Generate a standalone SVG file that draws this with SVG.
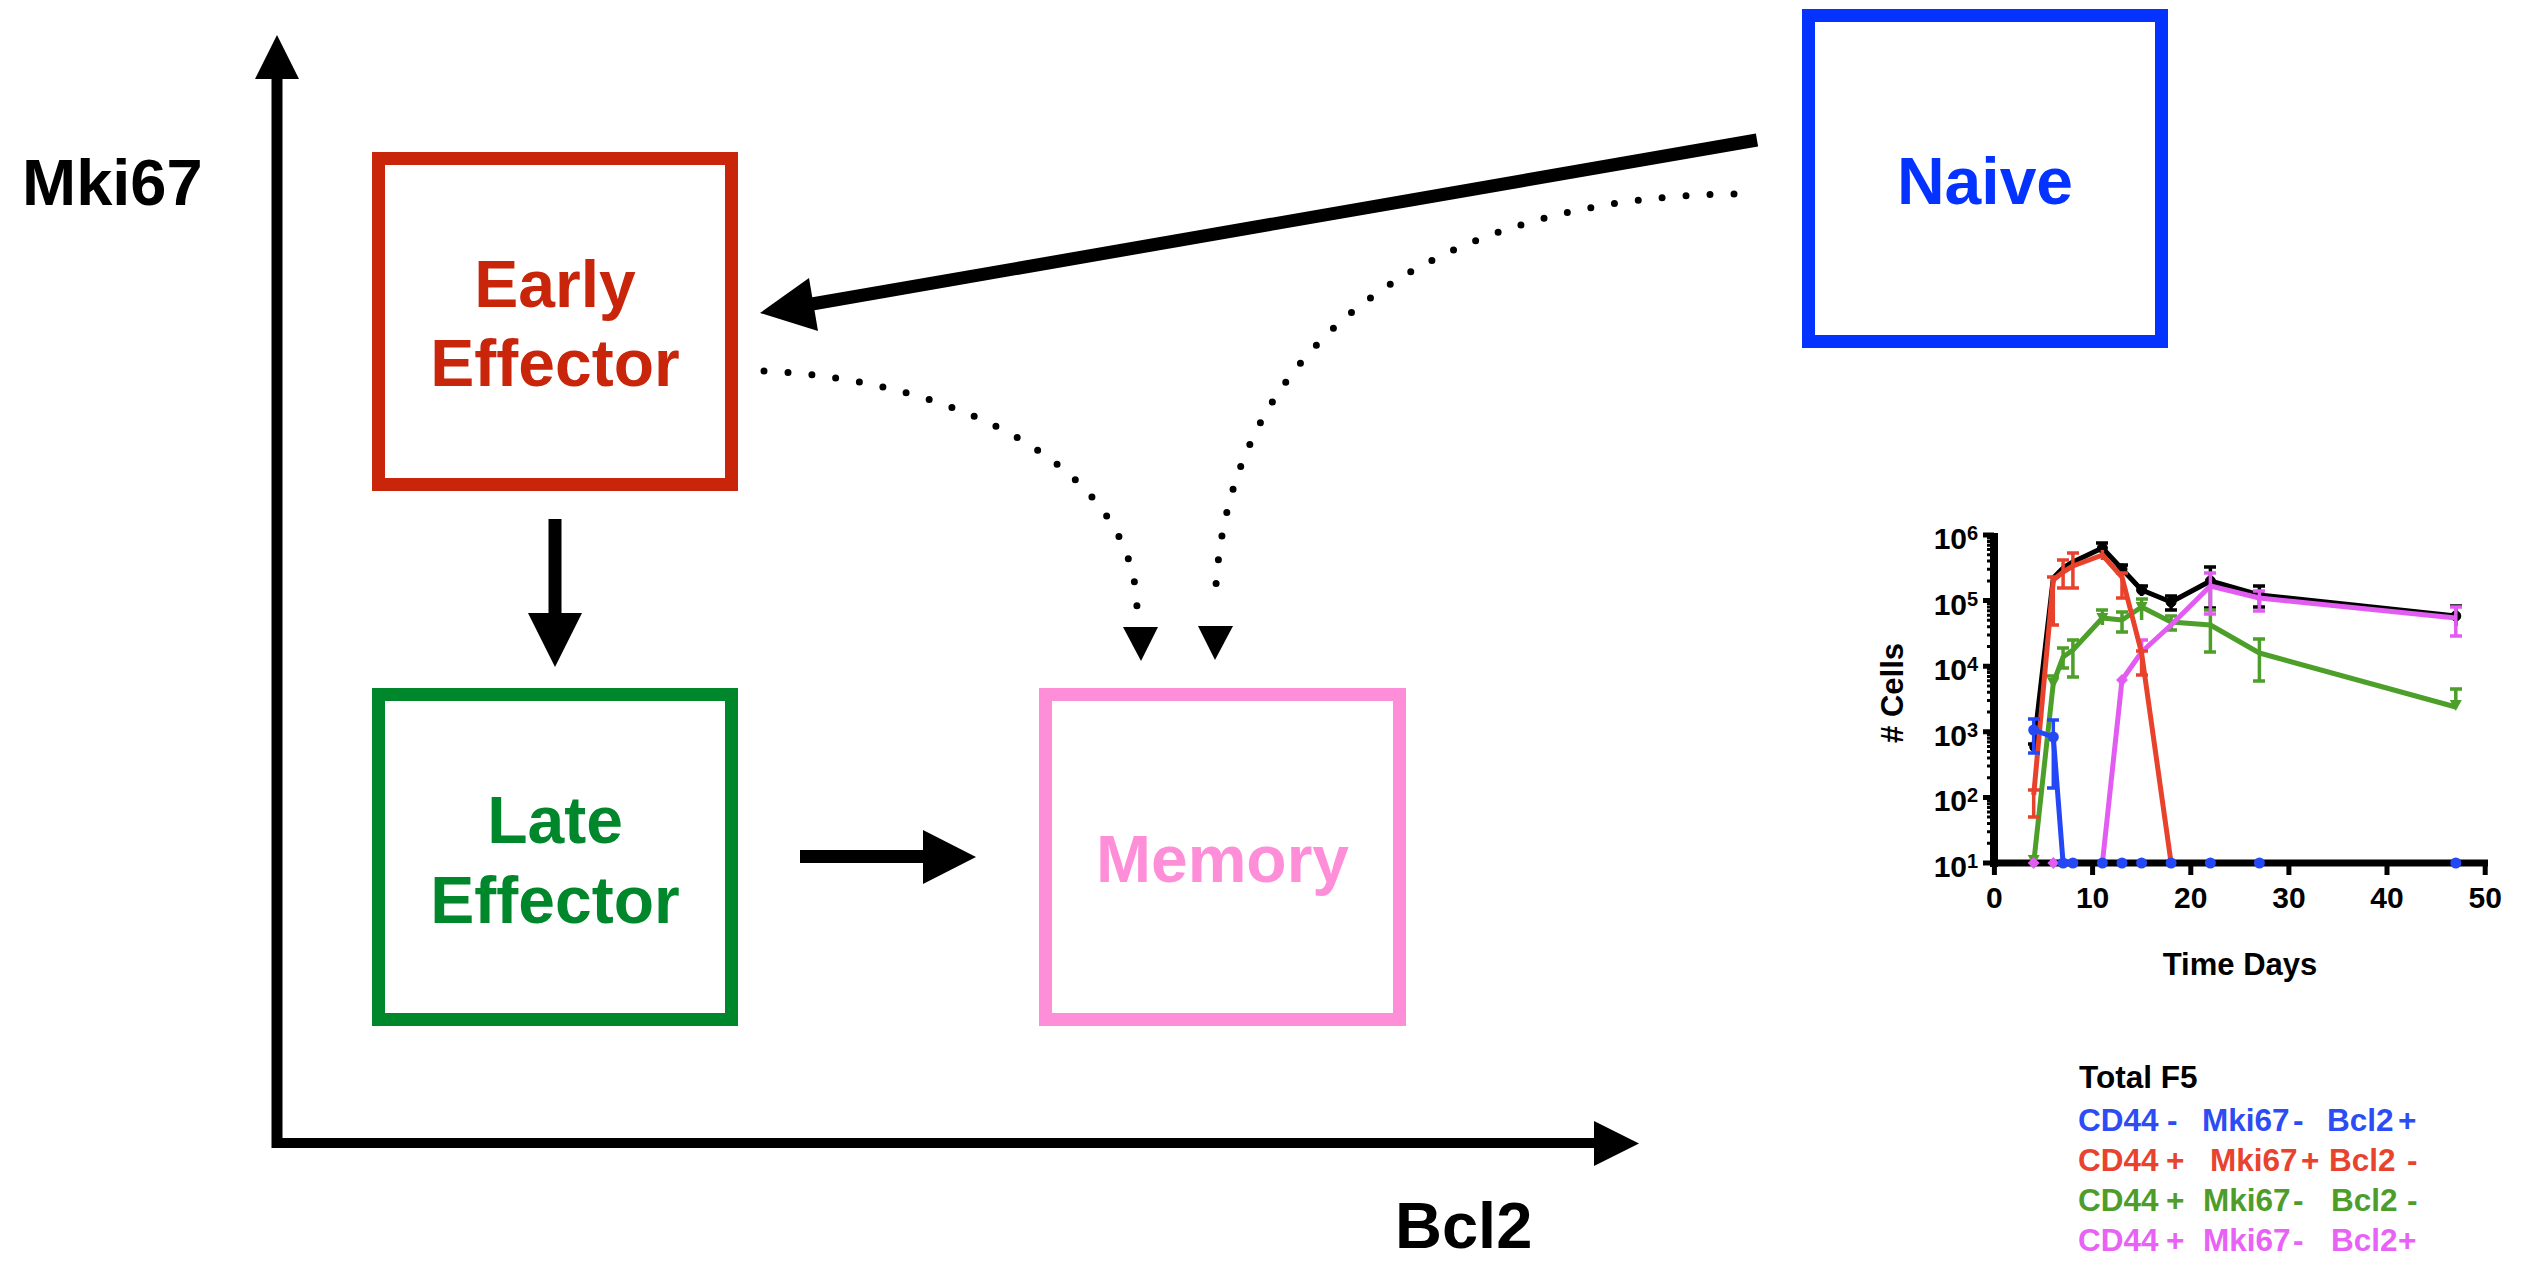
<svg xmlns="http://www.w3.org/2000/svg" width="2531" height="1262" viewBox="0 0 2531 1262">
<style>
text{font-family:"Liberation Sans",Arial,Helvetica,sans-serif;font-weight:bold}
.box{fill:none;stroke-width:13}
.lbl{font-size:66px;text-anchor:middle}
.ax{font-size:65px;fill:#000}
.solid{fill:none;stroke:#000;stroke-width:13}
.head{fill:#000}
.dot{fill:none;stroke:#000;stroke-width:7;stroke-linecap:round;stroke-dasharray:0 24}
.tk{font-size:30px;text-anchor:middle;fill:#000}
.yl{font-size:30px;text-anchor:end;fill:#000}
.sup{font-size:20px;fill:#000}
.lg{font-size:31.5px}
.ser{fill:none;stroke-width:5;stroke-linejoin:round}
.err{fill:none;stroke-width:3.5}
.axl{fill:none;stroke:#000}
</style>
<defs>
<path id="mtd" d="M-6,-5H6L0,6Z"/>
<path id="mdia" d="M0,-6L6,0L0,6L-6,0Z"/>
</defs>
<rect width="2531" height="1262" fill="#fff"/>

<g id="axes">
<line x1="277" y1="75" x2="277" y2="1148" stroke="#000" stroke-width="11"/>
<polygon class="head" points="277,35 255,79 299,79"/>
<line x1="272" y1="1143" x2="1598" y2="1143" stroke="#000" stroke-width="10"/>
<polygon class="head" points="1594,1121 1639,1143.5 1594,1166"/>
<text class="ax" x="22" y="205">Mki67</text>
<text class="ax" x="1395" y="1248">Bcl2</text>
</g>

<g id="connectors">
<line class="solid" x1="1757" y1="140" x2="812" y2="304"/>
<polygon class="head" points="760,313 809,278 818,331"/>
<line class="solid" x1="555" y1="519" x2="555" y2="616"/>
<polygon class="head" points="528,613 582,613 555,667"/>
<line class="solid" x1="800" y1="856.5" x2="926" y2="856.5"/>
<polygon class="head" points="923,830 976,857 923,884"/>
<path class="dot" d="M764,371 C960,380 1136,470 1137,610"/>
<polygon class="head" points="1123,627 1158,627 1141,661"/>
<path class="dot" d="M1734,194 C1480,196 1222,310 1215,607"/>
<polygon class="head" points="1198,626 1233,626 1215,660"/>
</g>

<g id="node-early">
<rect class="box" x="378.5" y="158.5" width="353" height="326" stroke="#C8250A"/>
<text class="lbl" fill="#C8250A" x="555" y="307">Early</text>
<text class="lbl" fill="#C8250A" x="555" y="386">Effector</text>
</g>
<g id="node-late">
<rect class="box" x="378.5" y="694.5" width="353" height="325" stroke="#00872C"/>
<text class="lbl" fill="#00872C" x="555" y="843">Late</text>
<text class="lbl" fill="#00872C" x="555" y="923">Effector</text>
</g>
<g id="node-memory">
<rect class="box" x="1045.5" y="694.5" width="354" height="325" stroke="#FF8ED8"/>
<text class="lbl" fill="#FF8ED8" x="1222.5" y="882">Memory</text>
</g>
<g id="node-naive">
<rect class="box" x="1808.5" y="15.5" width="353" height="326" stroke="#0433FF"/>
<text class="lbl" fill="#0433FF" x="1985" y="204">Naive</text>
</g>

<g id="chart">
<line class="axl" x1="1994" y1="533" x2="1994" y2="867" stroke-width="8"/>
<line class="axl" x1="1990" y1="863" x2="2488" y2="863" stroke-width="7"/>
<path class="axl" stroke-width="5" d="M1994.4,863V875M2092.6,863V875M2190.8,863V875M2288.9,863V875M2387,863V875M2485.2,863V875"/>
<path class="axl" stroke-width="5" d="M1983,863H1994M1983,797.4H1994M1983,731.8H1994M1983,666.2H1994M1983,600.6H1994M1983,535H1994"/>
<path class="axl" stroke-width="3" d="M1987,843.3H1994M1987,831.7H1994M1987,823.5H1994M1987,817.1H1994M1987,812H1994M1987,807.6H1994M1987,803.8H1994M1987,800.4H1994M1987,777.7H1994M1987,766.1H1994M1987,757.9H1994M1987,751.5H1994M1987,746.4H1994M1987,742H1994M1987,738.2H1994M1987,734.8H1994M1987,712.1H1994M1987,700.5H1994M1987,692.3H1994M1987,685.9H1994M1987,680.8H1994M1987,676.4H1994M1987,672.6H1994M1987,669.2H1994M1987,646.5H1994M1987,634.9H1994M1987,626.7H1994M1987,620.3H1994M1987,615.2H1994M1987,610.8H1994M1987,607H1994M1987,603.6H1994M1987,580.9H1994M1987,569.3H1994M1987,561.1H1994M1987,554.7H1994M1987,549.6H1994M1987,545.2H1994M1987,541.4H1994M1987,538H1994"/>
<text class="yl" x="1967" y="549">10</text><text class="sup" x="1967" y="540">6</text>
<text class="yl" x="1967" y="614.6">10</text><text class="sup" x="1967" y="605.6">5</text>
<text class="yl" x="1967" y="680.2">10</text><text class="sup" x="1967" y="671.2">4</text>
<text class="yl" x="1967" y="745.8">10</text><text class="sup" x="1967" y="736.8">3</text>
<text class="yl" x="1967" y="811.4">10</text><text class="sup" x="1967" y="802.4">2</text>
<text class="yl" x="1967" y="877">10</text><text class="sup" x="1967" y="868">1</text>
<text class="tk" x="1994.4" y="908">0</text>
<text class="tk" x="2092.6" y="908">10</text>
<text class="tk" x="2190.8" y="908">20</text>
<text class="tk" x="2288.9" y="908">30</text>
<text class="tk" x="2387" y="908">40</text>
<text class="tk" x="2485.2" y="908">50</text>
<text x="2240" y="975" font-size="31" text-anchor="middle" fill="#000">Time Days</text>
<text transform="translate(1903,693) rotate(-90)" font-size="31" text-anchor="middle" fill="#000"># Cells</text>

<g id="series-total" stroke="#000" fill="#000">
<polyline class="ser" points="2033.7,747 2053.3,578 2063.1,568 2072.9,562 2102.4,548 2122,569 2141.6,590 2171.1,602 2210.4,581 2259.4,595 2455.8,616"/>
<path class="err" d="M2033.7,744V750M2028,744H2040M2102.4,543V553M2096,543H2108M2122,565V575M2116,565H2128M2141.6,586V596M2136,586H2148M2171.1,596V610M2165,596H2177M2165,610H2177M2210.4,567V608M2204,567H2216M2204,608H2216M2259.4,586V607M2253,586H2265M2253,607H2265M2455.8,606V626M2450,606H2462"/>
<circle cx="2102.4" cy="548" r="5"/><circle cx="2122" cy="569" r="5"/><circle cx="2141.6" cy="590" r="5"/><circle cx="2171.1" cy="602" r="5"/><circle cx="2210.4" cy="581" r="5"/><circle cx="2259.4" cy="595" r="5"/><circle cx="2455.8" cy="616" r="5"/><circle cx="2033.7" cy="747" r="4"/>
</g>
<g id="series-green" stroke="#4C9F28" fill="#4C9F28">
<polyline class="ser" points="2033.7,863 2053.3,683 2063.1,657 2072.9,650 2102.4,618 2122,620 2141.6,607 2171.1,622 2210.4,625 2259.4,653 2455.8,707"/>
<path class="err" d="M2053.3,676V690M2047,676H2059M2063.1,648V668M2057,648H2069M2057,668H2069M2072.9,640V677M2067,640H2079M2067,677H2079M2102.4,610V625M2096,610H2108M2122,612V632M2116,612H2128M2116,632H2128M2141.6,599V620M2136,599H2148M2171.1,616V630M2165,616H2177M2165,630H2177M2210.4,610V652M2204,610H2216M2204,652H2216M2259.4,639V681M2253,639H2265M2253,681H2265M2455.8,689V707M2450,689H2462"/>
<use href="#mtd" x="2033.7" y="860" stroke="none"/><use href="#mtd" x="2053.3" y="683" stroke="none"/><use href="#mtd" x="2102.4" y="618" stroke="none"/><use href="#mtd" x="2141.6" y="607" stroke="none"/><use href="#mtd" x="2455.8" y="705" stroke="none"/>
</g>
<g id="series-magenta" stroke="#E35CF2" fill="#E35CF2">
<polyline class="ser" points="2102.4,863 2122,680 2141.6,652 2171.1,625 2210.4,586 2259.4,598 2455.8,618"/>
<path class="err" d="M2141.6,640V660M2136,640H2148M2210.4,573V614M2204,573H2216M2204,614H2216M2259.4,591V611M2253,591H2265M2253,611H2265M2455.8,607V636M2450,607H2462M2450,636H2462"/>
<use href="#mdia" x="2033.7" y="863" stroke="none"/><use href="#mdia" x="2053.3" y="863" stroke="none"/><use href="#mdia" x="2122" y="680" stroke="none"/>
</g>
<g id="series-red" stroke="#E8412C" fill="#E8412C">
<polyline class="ser" points="2033.7,795 2053.3,580 2063.1,572 2072.9,566 2102.4,555 2122,577 2141.6,653 2171.1,863"/>
<path class="err" d="M2033.7,790V817M2028,790H2040M2028,817H2040M2053.3,577V625M2047,577H2059M2047,625H2059M2063.1,560V588M2057,560H2069M2057,588H2069M2072.9,553V588M2067,553H2079M2067,588H2079M2102.4,550V560M2122,573V598M2116,573H2128M2116,598H2128M2141.6,651V675M2136,651H2148M2136,675H2148"/>
</g>
<g id="series-blue" stroke="#2448F5" fill="#2448F5">
<polyline class="ser" points="2033.7,730 2053.3,737 2063.1,863"/>
<path class="err" d="M2033.7,719V753M2028,719H2040M2028,753H2040M2053.3,720V788M2047,720H2059M2047,788H2059"/>
<g stroke="none">
<circle cx="2033.7" cy="730" r="5.5"/><circle cx="2053.3" cy="737" r="5.5"/>
<circle cx="2063.1" cy="863" r="5.5"/><circle cx="2072.9" cy="863" r="5.5"/><circle cx="2102.4" cy="863" r="5.5"/><circle cx="2122" cy="863" r="5.5"/><circle cx="2141.6" cy="863" r="5.5"/><circle cx="2171.1" cy="863" r="5.5"/><circle cx="2210.4" cy="863" r="5.5"/><circle cx="2259.4" cy="863" r="5.5"/><circle cx="2455.8" cy="863" r="5.5"/>
</g>
</g>
</g>

<g id="legend">
<text class="lg" x="2079" y="1088" fill="#000">Total F5</text>
<text class="lg" y="1131" fill="#2D4CF5"><tspan x="2078">CD44</tspan> <tspan x="2167">-</tspan> <tspan x="2202">Mki67</tspan> <tspan x="2293">-</tspan> <tspan x="2327">Bcl2</tspan> <tspan x="2398">+</tspan></text>
<text class="lg" y="1171" fill="#E8432E"><tspan x="2078">CD44</tspan> <tspan x="2166">+</tspan> <tspan x="2210">Mki67</tspan> <tspan x="2301">+</tspan> <tspan x="2329">Bcl2</tspan> <tspan x="2407">-</tspan></text>
<text class="lg" y="1211" fill="#4E9D2A"><tspan x="2078">CD44</tspan> <tspan x="2166">+</tspan> <tspan x="2203">Mki67</tspan> <tspan x="2293">-</tspan> <tspan x="2331">Bcl2</tspan> <tspan x="2407">-</tspan></text>
<text class="lg" y="1251" fill="#E762F5"><tspan x="2078">CD44</tspan> <tspan x="2166">+</tspan> <tspan x="2203">Mki67</tspan> <tspan x="2293">-</tspan> <tspan x="2331">Bcl2</tspan> <tspan x="2398">+</tspan></text>
</g>
</svg>
